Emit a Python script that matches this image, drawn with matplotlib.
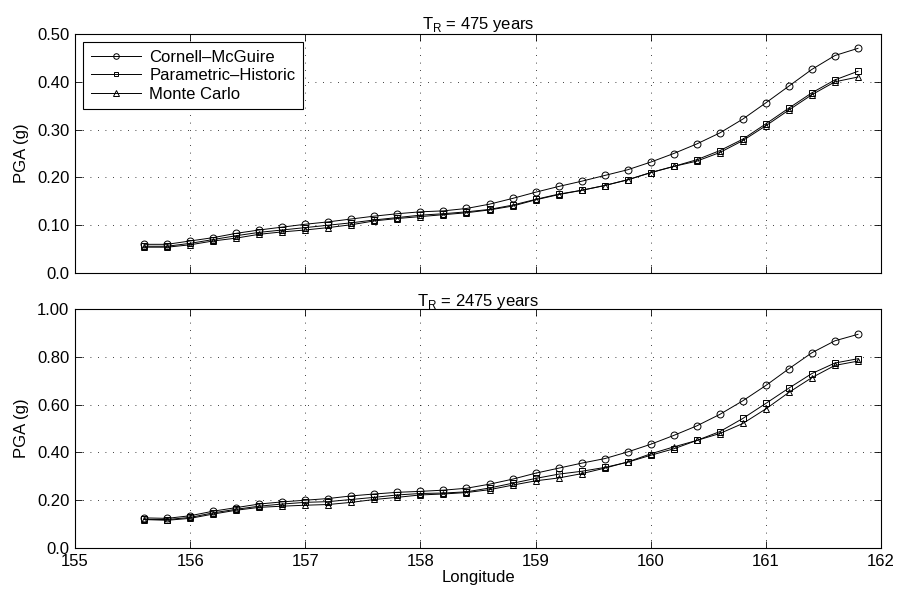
import matplotlib.pyplot as plt

plt.rcParams['font.family'] = ['Liberation Sans', 'DejaVu Sans']
plt.rcParams['font.size'] = 12

lon = [155.6, 155.8, 156.0, 156.2, 156.4, 156.6, 156.8, 157.0, 157.2, 157.4,
       157.6, 157.8, 158.0, 158.2, 158.4, 158.6, 158.8, 159.0, 159.2, 159.4,
       159.6, 159.8, 160.0, 160.2, 160.4, 160.6, 160.8, 161.0, 161.2, 161.4,
       161.6, 161.8]

# T_R = 475 years
cm_475 = [0.060, 0.060, 0.067, 0.074, 0.083, 0.090, 0.096, 0.102, 0.107, 0.113,
          0.119, 0.124, 0.128, 0.130, 0.135, 0.144, 0.156, 0.169, 0.181, 0.192,
          0.204, 0.216, 0.232, 0.250, 0.270, 0.293, 0.322, 0.356, 0.391, 0.426,
          0.455, 0.470]
ph_475 = [0.056, 0.056, 0.062, 0.070, 0.078, 0.085, 0.090, 0.095, 0.100, 0.105,
          0.111, 0.116, 0.121, 0.124, 0.128, 0.133, 0.142, 0.154, 0.165, 0.173,
          0.183, 0.195, 0.210, 0.223, 0.237, 0.256, 0.280, 0.312, 0.345, 0.377,
          0.404, 0.422]
mc_475 = [0.054, 0.054, 0.059, 0.067, 0.073, 0.081, 0.086, 0.090, 0.095, 0.101,
          0.109, 0.114, 0.118, 0.122, 0.126, 0.132, 0.140, 0.153, 0.164, 0.173,
          0.183, 0.195, 0.210, 0.223, 0.234, 0.252, 0.277, 0.308, 0.341, 0.373,
          0.400, 0.410]

# T_R = 2475 years
cm_2475 = [0.126, 0.124, 0.135, 0.154, 0.169, 0.184, 0.193, 0.200, 0.207, 0.218,
           0.226, 0.233, 0.237, 0.242, 0.250, 0.267, 0.288, 0.313, 0.334, 0.355,
           0.374, 0.402, 0.434, 0.471, 0.511, 0.559, 0.616, 0.680, 0.750, 0.817,
           0.867, 0.894]
ph_2475 = [0.120, 0.119, 0.128, 0.147, 0.162, 0.175, 0.184, 0.191, 0.194, 0.203,
           0.212, 0.222, 0.228, 0.230, 0.235, 0.251, 0.271, 0.291, 0.309, 0.321,
           0.337, 0.359, 0.388, 0.415, 0.450, 0.487, 0.542, 0.605, 0.669, 0.730,
           0.774, 0.792]
mc_2475 = [0.119, 0.116, 0.124, 0.142, 0.158, 0.170, 0.175, 0.179, 0.182, 0.191,
           0.203, 0.212, 0.222, 0.226, 0.232, 0.244, 0.263, 0.281, 0.293, 0.311,
           0.334, 0.360, 0.394, 0.423, 0.450, 0.479, 0.521, 0.582, 0.651, 0.713,
           0.764, 0.782]

xticks = [155, 156, 157, 158, 159, 160, 161, 162]
yticks_475 = [0.0, 0.1, 0.2, 0.3, 0.4, 0.5]
ylabels_475 = ['0.0', '0.10', '0.20', '0.30', '0.40', '0.50']
yticks_2475 = [0.0, 0.2, 0.4, 0.6, 0.8, 1.0]
ylabels_2475 = ['0.0', '0.20', '0.40', '0.60', '0.80', '1.00']

fig = plt.figure(figsize=(8.99, 5.97), dpi=100)
W, H = 899, 597
ax1 = fig.add_axes([75 / W, 1 - 273 / H, 806 / W, 239 / H])
ax2 = fig.add_axes([75 / W, 1 - 548 / H, 806 / W, 239 / H])


def draw(ax, cm, ph, mc, yt, yl, title):
    ax.plot(lon, cm, '-k', marker='o', ms=5, mfc='none', mew=0.7, lw=0.7,
            label='Cornell\u2013McGuire')
    ax.plot(lon, ph, '-k', marker='s', ms=4, mfc='none', mew=0.7, lw=0.7,
            label='Parametric\u2013Historic')
    ax.plot(lon, mc, '-k', marker='^', ms=5, mfc='none', mew=0.7, lw=0.7,
            label='Monte Carlo')
    ax.set_xlim(155, 162)
    ax.set_ylim(yt[0], yt[-1])
    ax.set_xticks(xticks)
    ax.set_yticks(yt)
    ax.set_yticklabels(yl)
    ax.grid(True, color='black', linestyle=(0, (1, 8)), linewidth=0.6)
    ax.tick_params(direction='in', top=True, right=True, length=5, width=0.6,
                   pad=4)
    for s in ax.spines.values():
        s.set_linewidth(0.8)
    ax.set_ylabel('PGA (g)', labelpad=6)
    ax.set_title(title, fontsize=12, pad=2)


draw(ax1, cm_475, ph_475, mc_475, yticks_475, ylabels_475,
     'T$_\\mathregular{R}$ = 475 years')
draw(ax2, cm_2475, ph_2475, mc_2475, yticks_2475, ylabels_2475,
     'T$_\\mathregular{R}$ = 2475 years')
ax1.set_xticklabels([])
ax2.set_xticklabels([str(x) for x in xticks])
ax2.set_xlabel('Longitude', labelpad=1)

leg = ax1.legend(loc='upper left', fancybox=False, edgecolor='black',
                 framealpha=1, borderpad=0.45, labelspacing=0.2,
                 handlelength=3.0, handletextpad=0.5, borderaxespad=0.5,
                 markerscale=0.8, fontsize=12)
leg.get_frame().set_linewidth(0.8)

fig.savefig('out.png', dpi=100)
